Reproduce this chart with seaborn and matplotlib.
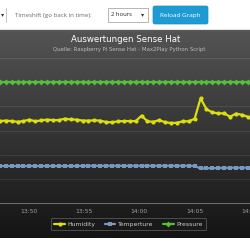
import numpy as np
import pandas as pd
import matplotlib
matplotlib.use("Agg")
import matplotlib.pyplot as plt
from matplotlib.patches import Rectangle, FancyBboxPatch
from matplotlib.lines import Line2D
import seaborn as sns

sns.set_theme(style="dark")
plt.rcParams['font.family'] = ['DejaVu Sans']

# ---------------- data ----------------
times = ["13:47:24", "13:47:56", "13:48:28", "13:49:00", "13:49:32", "13:50:04",
         "13:50:36", "13:51:08", "13:51:40", "13:52:12", "13:52:44", "13:53:16",
         "13:53:48", "13:54:20", "13:54:52", "13:55:24", "13:55:56", "13:56:28",
         "13:57:00", "13:57:32", "13:58:04", "13:58:36", "13:59:08", "13:59:40",
         "14:00:12", "14:00:44", "14:01:16", "14:01:48", "14:02:20", "14:02:52",
         "14:03:24", "14:03:56", "14:04:28", "14:05:00", "14:05:32", "14:06:04",
         "14:06:36", "14:07:08", "14:07:40", "14:08:12", "14:08:44", "14:09:16",
         "14:09:48"]

humidity = [33.9, 34.1, 33.9, 33.6, 33.9, 34.5, 33.8, 34.2, 34.5, 34.3, 34.3, 34.9,
            34.6, 34.5, 34.1, 34.1, 34.2, 34.1, 33.5, 33.4, 33.8, 33.9, 33.9, 33.9,
            36.1, 33.8, 33.6, 34.3, 33.4, 33.1, 33.2, 33.8, 33.8, 34.9, 43.3, 38.8,
            37.5, 37.1, 37.1, 35.7, 37.0, 36.5, 35.7]

temperature = [15.3, 15.3, 15.3, 15.3, 15.3, 15.3, 15.3, 15.3, 15.3, 15.3, 15.3, 15.3,
               15.3, 15.3, 15.4, 15.4, 15.4, 15.4, 15.4, 15.4, 15.4, 15.4, 15.4, 15.4,
               15.4, 15.4, 15.4, 15.4, 15.4, 15.4, 15.4, 15.4, 15.4, 15.3, 14.3, 14.4,
               14.4, 14.5, 14.5, 14.6, 14.6, 14.6, 14.6]

pressure = [50.0] * 43

series_names = ["Humidity", "Temperture", "Pressure"]
series_colors = ["#DDDF0D", "#7798BF", "#55BF3B"]
series_markers = ["o", "s", "D"]
x_tick_labels = ["13:50", "13:55", "14:00", "14:05", "14:10"]

title = "Auswertungen Sense Hat"
subtitle = "Quelle: Raspberry Pi Sense Hat - Max2Play Python Script"

# ---------------- build frame ----------------
t = pd.to_datetime(["2016-01-01 " + s for s in times])
df = pd.concat([
    pd.DataFrame({"time": t, "value": humidity, "series": series_names[0]}),
    pd.DataFrame({"time": t, "value": temperature, "series": series_names[1]}),
    pd.DataFrame({"time": t, "value": pressure, "series": series_names[2]}),
])

W = H = 250
fig = plt.figure(figsize=(2.5, 2.5), dpi=100)
fig.patch.set_facecolor("white")

def fx(px):
    return px / W

def fy(py):
    return 1 - py / H

# dark gradient background of chart
bg = fig.add_axes([0, fy(238), 1, fy(30) - fy(238)], zorder=0)
grad = np.linspace(0, 1, 256).reshape(-1, 1)
top = np.array([84, 84, 84]) / 255
bot = np.array([20, 20, 20]) / 255
img = top[None, None, :] * (1 - grad[:, :, None]) + bot[None, None, :] * grad[:, :, None]
bg.imshow(img, aspect="auto", extent=[0, 1, 0, 1])
bg.set_axis_off()

# main plot
ax = fig.add_axes([0, fy(203), 1, fy(58) - fy(203)], zorder=2)
ax.set_facecolor("none")
sns.lineplot(data=df, x="time", y="value", hue="series", style="series",
             hue_order=series_names, style_order=series_names,
             palette=dict(zip(series_names, series_colors)),
             markers=dict(zip(series_names, series_markers)),
             dashes=False, linewidth=1.6, markersize=3.0, markeredgewidth=0,
             legend=False, ax=ax)

ax.set_ylim(0, 60)
ax.set_yticks(np.arange(0, 61, 10))
ax.set_yticklabels([])
ax.tick_params(axis="y", length=0)
ax.grid(axis="y", color="white", alpha=0.09, linewidth=0.8)
ax.grid(axis="x", visible=False)
ax.set_axisbelow(True)

x0 = pd.Timestamp("2016-01-01 13:47:24.6")
x1 = pd.Timestamp("2016-01-01 14:09:44")
ax.set_xlim(x0, x1)
tick_pos = pd.to_datetime(["2016-01-01 " + s for s in x_tick_labels])
ax.set_xticks(tick_pos)
ax.set_xticklabels(x_tick_labels)
ax.tick_params(axis="x", colors="#777777", labelcolor="#a0a0a0", labelsize=4.3,
               length=2.5, width=0.6, direction="out", pad=1.5)
for side in ["top", "left", "right"]:
    ax.spines[side].set_visible(False)
ax.spines["bottom"].set_color("#6a6a6a")
ax.spines["bottom"].set_linewidth(0.8)
ax.set_xlabel("")
ax.set_ylabel("")

# titles
fig.text(fx(126), fy(39), title, color="white", fontsize=6.2, ha="center", va="center")
fig.text(fx(129), fy(49), subtitle, color="#bbbbbb", fontsize=3.9, ha="center", va="center")

# legend
handles = [Line2D([0], [0], color=c, marker=m, markersize=3.0, linewidth=1.6,
                  markeredgewidth=0)
           for c, m in zip(series_colors, series_markers)]
leg = fig.legend(handles, series_names, loc="center", bbox_to_anchor=(fx(128.5), fy(224)),
                 ncol=3, fontsize=4.4, frameon=True, handlelength=1.7, handletextpad=0.4,
                 columnspacing=1.6, borderpad=0.55, fancybox=True)
leg.get_frame().set_facecolor((0.1, 0.1, 0.1, 0.5))
leg.get_frame().set_edgecolor("#666666")
leg.get_frame().set_linewidth(0.6)
for txt in leg.get_texts():
    txt.set_color("#cccccc")

# top form strip
fig.add_artist(Rectangle((0, fy(29)), 1, fy(0) - fy(29), transform=fig.transFigure,
                         facecolor="white", edgecolor="none", zorder=5))
fig.add_artist(Line2D([0, 1], [fy(29), fy(29)], transform=fig.transFigure,
                      color="#e2e2e2", linewidth=0.8, zorder=6))
fig.text(fx(2.5), fy(15), "\u25BE", color="#333333", fontsize=4.5, ha="center",
         va="center", zorder=7)
fig.add_artist(Line2D([fx(6), fx(6)], [fy(8), fy(22)], transform=fig.transFigure,
                      color="#bbbbbb", linewidth=0.6, zorder=7))
fig.text(fx(15), fy(15), "Timeshift (go back in time):", color="#6a6a6a",
         fontsize=4.4, ha="left", va="center", family="Open Sans", zorder=7)
fig.add_artist(Rectangle((fx(108), fy(22)), fx(40), fy(8) - fy(22),
                         transform=fig.transFigure, facecolor="white",
                         edgecolor="#aaaaaa", linewidth=0.6, zorder=7))
fig.text(fx(111), fy(15), "2 hours", color="#222222", fontsize=4.2, ha="left",
         va="center", family="Open Sans", zorder=8)
fig.text(fx(143), fy(15), "\u25BE", color="#333333", fontsize=4.5, ha="center",
         va="center", zorder=8)
fig.add_artist(FancyBboxPatch((fx(153), fy(24)), fx(55), fy(6) - fy(24),
                              boxstyle="round,pad=0,rounding_size=0.008",
                              transform=fig.transFigure, facecolor="#1f9bd4",
                              edgecolor="#1a8cc0", linewidth=0.5, zorder=7))
fig.text(fx(180.5), fy(15), "Reload Graph", color="white", fontsize=4.6,
         ha="center", va="center", family="Open Sans", zorder=8)

fig.savefig("out.png", dpi=100, facecolor="white")
